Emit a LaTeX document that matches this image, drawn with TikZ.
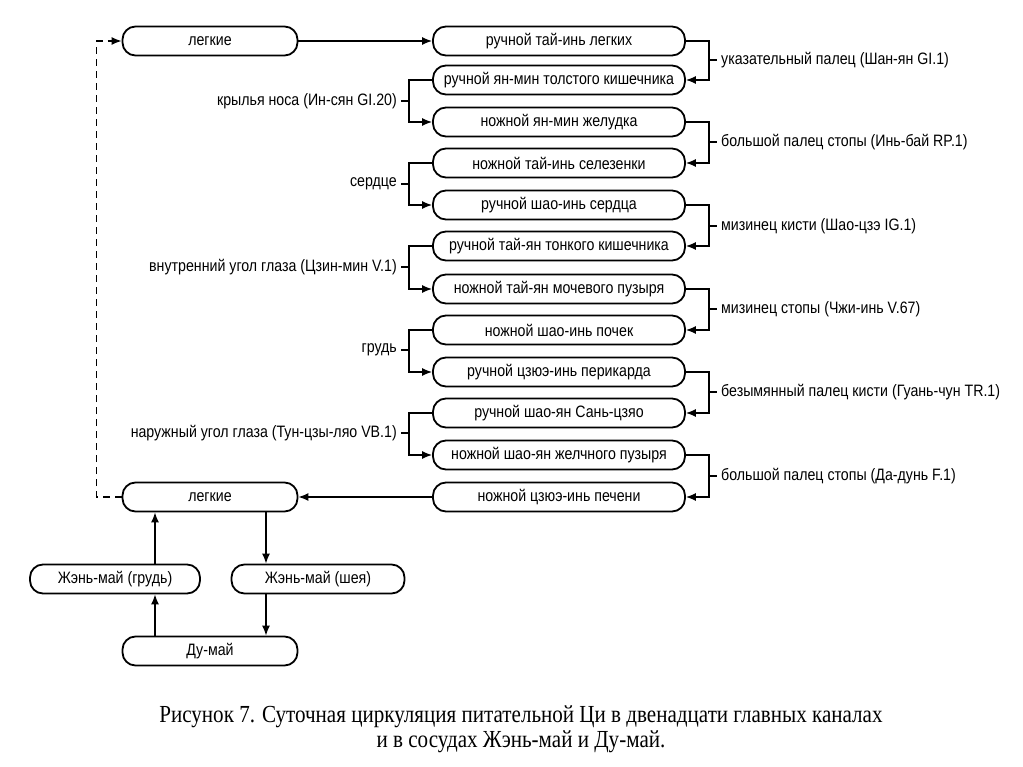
\documentclass[tikz,border=0pt]{standalone}
\usepackage{fontspec}
\setmainfont{Liberation Sans}[FakeStretch=0.86]
\newfontfamily\capfont{Liberation Serif}[FakeStretch=0.86]
\usetikzlibrary{arrows.meta,positioning,calc}

\begin{document}
\begin{tikzpicture}[
    x=1pt, y=-1pt,
    channel/.style={draw, rectangle, rounded corners=13pt, line width=1.8pt, minimum width=252pt, minimum height=29pt, inner sep=0pt, font=\fontsize{16.5}{18}\selectfont},
    vessel/.style={channel, minimum width=175pt},
    point/.style={font=\fontsize{16.5}{18}\selectfont, inner sep=1pt},
    line/.style={draw, -{Latex[length=10pt,width=8pt]}, line width=1.5pt},
    tick/.style={draw, line width=1.5pt},
    link/.style={line, dash pattern=on 7pt off 5pt}
]
\useasboundingbox (0,0) rectangle (1023,767);

% left column
\node[vessel] (lung) at (210,41) {легкие};
\node[vessel] (lungb) at (210,497) {легкие};
\node[vessel, minimum width=170pt] (renchest) at (115,579) {Жэнь-май (грудь)};
\node[vessel, minimum width=173pt] (renneck) at (318,579) {Жэнь-май (шея)};
\node[vessel] (dumai) at (210,651) {Ду-май};

% twelve channels
\node[channel] (hlung) at (559,41) {ручной тай-инь легких};
\node[channel] (colon) at (559,80) {ручной ян-мин толстого кишечника};
\node[channel] (stomach) at (559,122) {ножной ян-мин желудка};
\node[channel] (spleen) at (559,163) {ножной тай-инь селезенки};
\node[channel] (heart) at (559,205) {ручной шао-инь сердца};
\node[channel] (smallint) at (559,246) {ручной тай-ян тонкого кишечника};
\node[channel] (bladder) at (559,289) {ножной тай-ян мочевого пузыря};
\node[channel] (kidney) at (559,330) {ножной шао-инь почек};
\node[channel] (pericard) at (559,372) {ручной цзюэ-инь перикарда};
\node[channel] (sanjiao) at (559,413) {ручной шао-ян Сань-цзяо};
\node[channel] (gall) at (559,455) {ножной шао-ян желчного пузыря};
\node[channel] (liver) at (559,497) {ножной цзюэ-инь печени};

% points on the right
\node[point, anchor=west] (p1) at (720,60) {указательный палец (Шан-ян GI.1)};
\node[point, anchor=west] (p2) at (720,142) {большой палец стопы (Инь-бай RP.1)};
\node[point, anchor=west] (p3) at (720,226) {мизинец кисти (Шао-цзэ IG.1)};
\node[point, anchor=west] (p4) at (720,309) {мизинец стопы (Чжи-инь V.67)};
\node[point, anchor=west] (p5) at (720,392) {безымянный палец кисти (Гуань-чун TR.1)};
\node[point, anchor=west] (p6) at (720,476) {большой палец стопы (Да-дунь F.1)};

% points on the left
\node[point, anchor=east] (q1) at (398,101) {крылья носа (Ин-сян GI.20)};
\node[point, anchor=east] (q2) at (398,184) {сердце};
\node[point, anchor=east] (q3) at (398,267) {внутренний угол глаза (Цзин-мин V.1)};
\node[point, anchor=east] (q4) at (398,350) {грудь};
\node[point, anchor=east] (q5) at (398,433) {наружный угол глаза (Тун-цзы-ляо VB.1)};

\draw[line] (lung) -- (hlung);
\draw[line] (liver) -- (lungb);
\draw[link] (lungb.west) -- ++(-25,0) |- (lung.west);

\draw[line] (hlung.east) -- ++(23,0) coordinate (r1) |- (colon.east);
\draw[line] (stomach.east) -- ++(23,0) coordinate (r2) |- (spleen.east);
\draw[line] (heart.east) -- ++(23,0) coordinate (r3) |- (smallint.east);
\draw[line] (bladder.east) -- ++(23,0) coordinate (r4) |- (kidney.east);
\draw[line] (pericard.east) -- ++(23,0) coordinate (r5) |- (sanjiao.east);
\draw[line] (gall.east) -- ++(23,0) coordinate (r6) |- (liver.east);
\draw[tick] (r1 |- p1) -- ++(8,0);
\draw[tick] (r2 |- p2) -- ++(8,0);
\draw[tick] (r3 |- p3) -- ++(8,0);
\draw[tick] (r4 |- p4) -- ++(8,0);
\draw[tick] (r5 |- p5) -- ++(8,0);
\draw[tick] (r6 |- p6) -- ++(8,0);

\draw[line] (colon.west) -- ++(-23,0) coordinate (l1) |- (stomach.west);
\draw[line] (spleen.west) -- ++(-23,0) coordinate (l2) |- (heart.west);
\draw[line] (smallint.west) -- ++(-23,0) coordinate (l3) |- (bladder.west);
\draw[line] (kidney.west) -- ++(-23,0) coordinate (l4) |- (pericard.west);
\draw[line] (sanjiao.west) -- ++(-23,0) coordinate (l5) |- (gall.west);
\draw[tick] (l1 |- q1) -- ++(-8,0);
\draw[tick] (l2 |- q2) -- ++(-8,0);
\draw[tick] (l3 |- q3) -- ++(-8,0);
\draw[tick] (l4 |- q4) -- ++(-8,0);
\draw[tick] (l5 |- q5) -- ++(-8,0);

% vessels
\draw[line] (renchest.north -| 155,0) -- (lungb.south -| 155,0);
\draw[line] (lungb.south -| 266,0) -- (renneck.north -| 266,0);
\draw[line] (renneck.south -| 266,0) -- (dumai.north -| 266,0);
\draw[line] (dumai.north -| 155,0) -- (renchest.south -| 155,0);

\node[font=\capfont\fontsize{24.5}{25}\selectfont, align=center] (caption) at (521,729)
    {Рисунок 7. Суточная циркуляция питательной Ци в двенадцати главных каналах\\
     и в сосудах Жэнь-май и Ду-май.};

\end{tikzpicture}
\end{document}
